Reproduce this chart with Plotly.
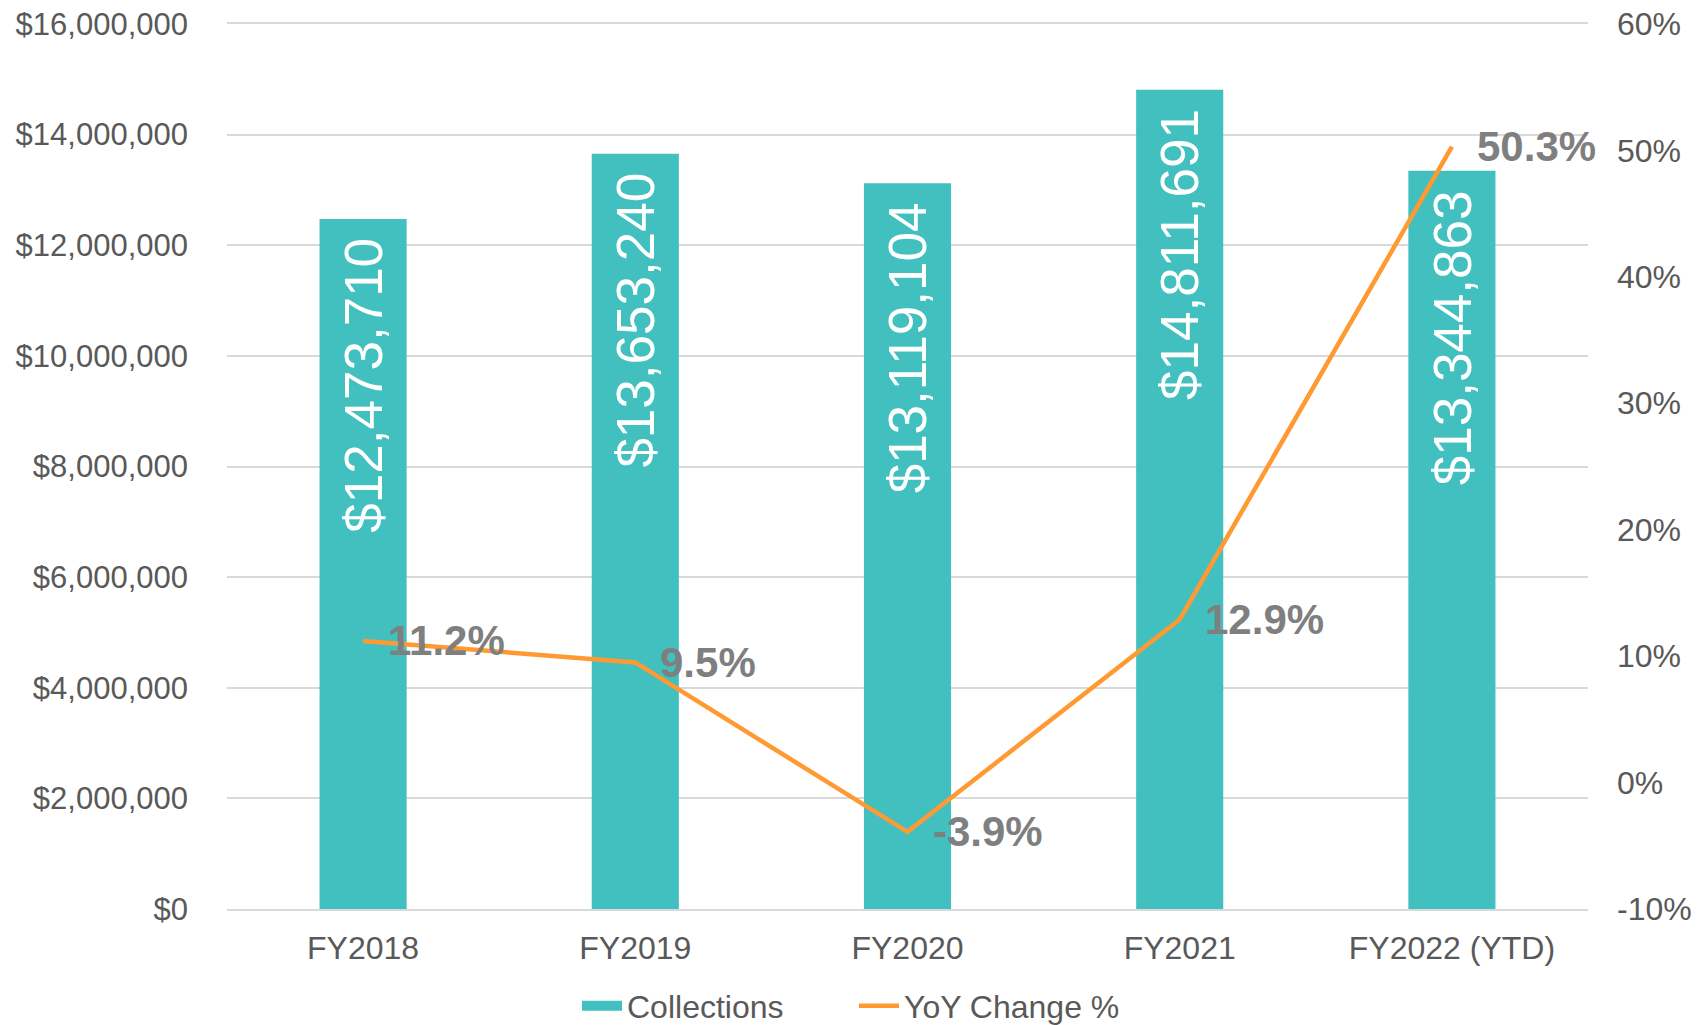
import plotly.graph_objects as go

categories = ["FY2018", "FY2019", "FY2020", "FY2021", "FY2022 (YTD)"]
collections = [12473710, 13653240, 13119104, 14811691, 13344863]
yoy_change = [11.2, 9.5, -3.9, 12.9, 50.3]
right_tick_vals = [-10, 0, 10, 20, 30, 40, 50, 60]
right_tick_text = ["-10%", "0%", "10%", "20%", "30%", "40%", "50%", "60%"]

FONT = "Liberation Sans, Arial, sans-serif"
TEAL = "#41c0bf"
ORANGE = "#ff9a33"
AXIS_GRAY = "#595959"
LABEL_GRAY = "#7f7f7f"
GRID = "#d9d9d9"

W, H = 1708, 1025

fig = go.Figure()
fig.add_trace(go.Bar(
    x=categories, y=collections, name="Collections",
    marker=dict(color=TEAL, line=dict(width=0)),
    width=0.32, yaxis="y", showlegend=False, legendgroup="c",
))
# legend-only swatch for the bars (wide rectangle like the original)
fig.add_trace(go.Scatter(
    x=[None], y=[None], name="Collections", mode="lines",
    line=dict(color=TEAL, width=19), legendgroup="c", hoverinfo="skip",
))
fig.add_trace(go.Scatter(
    x=categories, y=yoy_change, name="YoY Change %",
    mode="lines", line=dict(color=ORANGE, width=4.5),
    yaxis="y2",
))

annotations = []
for c, v in zip(categories, collections):
    annotations.append(dict(
        x=c, y=v, xref="x", yref="y", text=f"${v:,}",
        textangle=-90, showarrow=False, yanchor="top", xanchor="center",
        yshift=-17, font=dict(family=FONT, size=53, color="white"),
    ))
for c, v in zip(categories, yoy_change):
    annotations.append(dict(
        x=c, y=v, xref="x", yref="y2", text=f"<b>{v:.1f}%</b>",
        showarrow=False, xanchor="left", yanchor="middle", xshift=23,
        font=dict(family=FONT, size=42, color=LABEL_GRAY),
    ))

fig.update_layout(
    width=W, height=H,
    margin=dict(l=227, r=120, t=24, b=116, autoexpand=False),
    paper_bgcolor="white", plot_bgcolor="white",
    font=dict(family=FONT, size=32, color=AXIS_GRAY),
    bargap=0.68,
    xaxis=dict(
        type="category", range=[-0.5, 4.5], showgrid=False,
        showline=True, mirror=True, linecolor=GRID, linewidth=2,
        ticks="", ticklabelstandoff=10, automargin=False,
        tickfont=dict(family=FONT, size=32, color=AXIS_GRAY),
    ),
    yaxis=dict(
        range=[0, 16000000], dtick=2000000, tickprefix="$", tickformat=",",
        showgrid=True, gridcolor=GRID, gridwidth=1.5,
        zeroline=False, showline=False, ticks="", ticklabelstandoff=38,
        automargin=False, ticklabeloverflow="allow",
        tickfont=dict(family=FONT, size=31, color=AXIS_GRAY),
    ),
    yaxis2=dict(
        overlaying="y", side="right", range=[-10, 60],
        tickvals=right_tick_vals, ticktext=right_tick_text,
        showgrid=False, zeroline=False, showline=False,
        ticks="", ticklabelstandoff=28, automargin=False,
        ticklabeloverflow="allow",
        tickfont=dict(family=FONT, size=32, color=AXIS_GRAY),
    ),
    legend=dict(
        orientation="h", xref="container", yref="container",
        x=0.5, xanchor="center", y=19 / H, yanchor="middle",
        font=dict(family=FONT, size=32, color=AXIS_GRAY),
        itemwidth=40, entrywidth=222, entrywidthmode="pixels",
    ),
    annotations=annotations,
    showlegend=True,
)

fig.write_html(
    "out.html",
    config={"displayModeBar": False},
    post_script="document.body.style.margin='0';",
)
